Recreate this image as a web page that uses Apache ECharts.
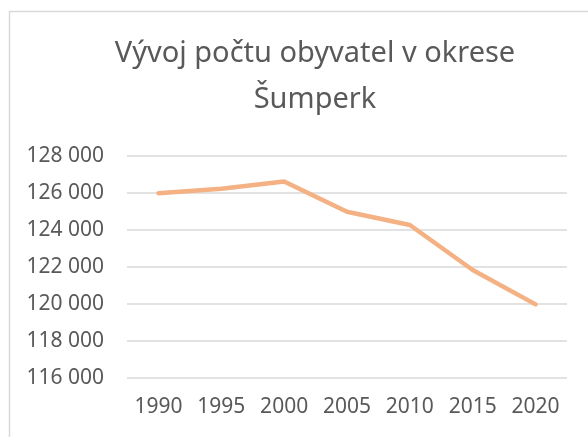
<!DOCTYPE html>
<html>
<head>
<meta charset="utf-8">
<script src="https://cdn.jsdelivr.net/npm/echarts@6/dist/echarts.min.js"></script>
<style>
  html, body { margin: 0; padding: 0; background: #fff; }
  #chart { width: 588px; height: 437px; }
</style>
</head>
<body>
<div id="chart"></div>
<script>
const years = ['1990', '1995', '2000', '2005', '2010', '2015', '2020'];
const population = [125990, 126230, 126620, 124990, 124270, 121840, 119980];
const yMin = 116000;
const yMax = 128000;
const yStep = 2000;

const textColor = '#595959';
const lineColor = '#F4B183';
const gridColor = '#d9d9d9';
const font = '"Noto Sans", sans-serif';

const fmt = (v) => String(v).replace(/\B(?=(\d{3})+(?!\d))/g, ' ');

const chart = echarts.init(document.getElementById('chart'));
chart.setOption({
  animation: false,
  backgroundColor: '#fff',
  graphic: [
    {
      type: 'rect',
      shape: { x: 9.5, y: 11.5, width: 700, height: 600 },
      style: { fill: 'none', stroke: gridColor, lineWidth: 1.5 },
      silent: true,
    },
  ],
  title: {
    text: 'Vývoj počtu obyvatel v okrese\nŠumperk',
    left: 310,
    top: 26,
    textAlign: 'center',
    textStyle: {
      color: textColor,
      fontFamily: font,
      fontWeight: 'normal',
      fontSize: 29,
      lineHeight: 46,
    },
  },
  grid: { left: 127, right: 21, top: 156, bottom: 59 },
  xAxis: {
    type: 'category',
    data: years,
    boundaryGap: true,
    axisLine: { show: false },
    axisTick: { show: false },
    axisLabel: { color: textColor, fontFamily: font, fontSize: 21, margin: 19 },
  },
  yAxis: {
    type: 'value',
    min: yMin,
    max: yMax,
    interval: yStep,
    axisLine: { show: false },
    axisTick: { show: false },
    axisLabel: {
      color: textColor,
      fontFamily: font,
      fontSize: 21,
      margin: 23,
      formatter: fmt,
    },
    splitLine: { lineStyle: { color: gridColor, width: 1.5 } },
  },
  series: [
    {
      type: 'line',
      data: population,
      symbol: 'none',
      lineStyle: { color: lineColor, width: 4.5, cap: 'round', join: 'round' },
    },
  ],
});
</script>
</body>
</html>
